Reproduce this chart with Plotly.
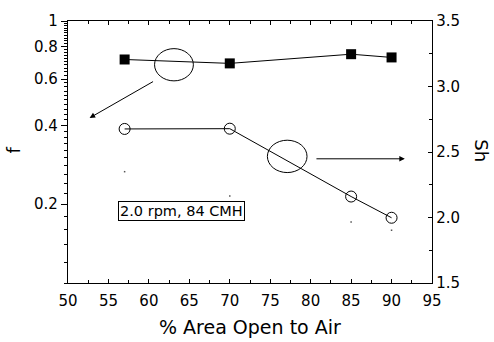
import plotly.graph_objects as go

# ---- data ----
area_open = [57, 70, 85, 90]
f_values = [0.713, 0.689, 0.747, 0.726]
sh_values = [2.676, 2.678, 2.160, 1.998]
dot_f = [0.266, 0.215, 0.171, 0.159]

x_ticks = [50, 55, 60, 65, 70, 75, 80, 85, 90, 95]
f_tick_step = 0.2
f_minor = [round(0.1 + 0.02 * i, 2) for i in range(46)]
sh_ticks = [1.5, 2.0, 2.5, 3.0, 3.5]

FONT = "DejaVu Sans, Liberation Sans, Arial, sans-serif"

fig = go.Figure()
fig.add_trace(go.Scatter(
    x=area_open, y=f_values, mode="lines+markers", yaxis="y",
    line=dict(color="black", width=1),
    marker=dict(symbol="square", size=10, color="black"),
    showlegend=False))
fig.add_trace(go.Scatter(
    x=area_open, y=sh_values, mode="lines+markers", yaxis="y2",
    line=dict(color="black", width=1),
    marker=dict(symbol="circle-open", size=11, color="black", line=dict(width=1)),
    showlegend=False))
fig.add_trace(go.Scatter(
    x=area_open, y=dot_f, mode="markers", yaxis="y3",
    marker=dict(symbol="square", size=1.5, color="#555"),
    showlegend=False))

# ellipses
fig.add_shape(type="circle", xref="x", yref="y2",
              x0=60.7, x1=65.5, y0=3.043, y1=3.289,
              line=dict(color="black", width=1))
fig.add_shape(type="circle", xref="x", yref="y2",
              x0=74.65, x1=79.55, y0=2.343, y1=2.590,
              line=dict(color="black", width=1))

annotations = [
    dict(x=52.67, y=2.76, ax=60.7, ay=3.044, xref="x", yref="y2", axref="x", ayref="y2",
         text="", showarrow=True, arrowhead=2, arrowsize=1.1, arrowwidth=1, arrowcolor="black"),
    dict(x=91.64, y=2.448, ax=80.53, ay=2.448, xref="x", yref="y2", axref="x", ayref="y2",
         text="", showarrow=True, arrowhead=2, arrowsize=1.1, arrowwidth=1, arrowcolor="black"),
    dict(x=64.07, y=2.052, xref="x", yref="y2", text="2.0 rpm, 84 CMH", showarrow=False,
         font=dict(family=FONT, size=14.5, color="black"),
         bordercolor="black", borderwidth=1, borderpad=1, bgcolor="white"),
    dict(x=-0.150, y=0.507, xref="paper", yref="paper", text="f", showarrow=False,
         xanchor="center", yanchor="middle",
         textangle=-90, font=dict(family=FONT, size=18, color="black")),
    dict(x=1.1355, y=0.505, xref="paper", yref="paper", text="Sh", showarrow=False,
         xanchor="center", yanchor="middle",
         textangle=90, font=dict(family=FONT, size=18, color="black")),
    dict(x=0.5, y=-0.169, xref="paper", yref="paper", text="% Area Open to Air",
         xanchor="center", yanchor="middle",
         showarrow=False, font=dict(family=FONT, size=19, color="black")),
]

fig.update_layout(
    width=494, height=342,
    margin=dict(l=68, r=62, t=15, b=59),
    plot_bgcolor="white", paper_bgcolor="white",
    font=dict(family=FONT, size=15, color="black"),
    annotations=annotations,
    xaxis=dict(range=[50, 95], tickvals=x_ticks, ticks="inside", ticklen=4, tickwidth=1,
               tickcolor="black", showline=True, linecolor="black", linewidth=1.3,
               mirror="ticks", showgrid=False, zeroline=False, ticklabelstandoff=4,
               minor=dict(dtick=2.5, tick0=50, ticks="inside", ticklen=3, tickcolor="black")),
    yaxis=dict(type="log", range=[-1, 0], tickmode="linear", tick0=0,
               dtick="L%g" % f_tick_step,
               ticks="outside", ticklen=6, tickwidth=1, tickcolor="black",
               showline=True, linecolor="black", linewidth=1.3, showgrid=False,
               zeroline=False),
    yaxis3=dict(type="log", range=[-1, 0], overlaying="y", side="left",
                anchor="free", position=0, automargin=False,
                tickmode="array", tickvals=f_minor, ticks="outside", ticklen=4,
                tickwidth=1, tickcolor="black", showticklabels=False,
                showline=False, showgrid=False, zeroline=False),
    yaxis2=dict(overlaying="y", side="right", range=[1.5, 3.5], tickvals=sh_ticks,
                tickformat=".1f", ticks="inside", ticklen=4, tickwidth=1, tickcolor="black",
                showline=True, linecolor="black", linewidth=1.3, showgrid=False,
                zeroline=False,
                minor=dict(dtick=0.25, tick0=1.5, ticks="inside", ticklen=3, tickcolor="black")),
)

fig.write_html("out.html")
